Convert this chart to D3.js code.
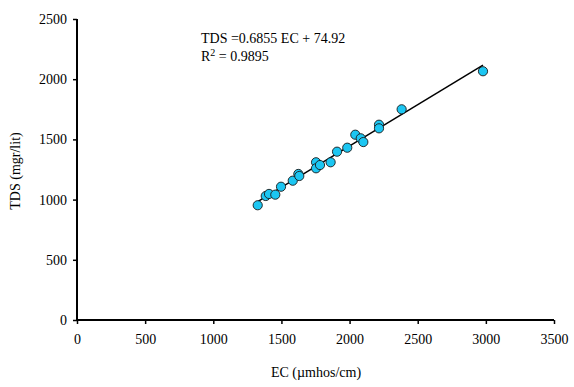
<!DOCTYPE html>
<html>
<head>
<meta charset="utf-8">
<script src="https://cdn.jsdelivr.net/npm/d3@7"></script>
<style>
  body { margin: 0; background: #fff; }
  svg text { font-family: "Liberation Serif", "Times New Roman", serif; fill: #000; }
</style>
</head>
<body>
<svg width="574" height="387"></svg>
<script>
var ecValues  = [1326, 1385, 1409, 1455, 1497, 1583, 1624, 1631, 1754, 1754, 1783, 1861, 1908, 1983, 2042, 2082, 2101, 2216, 2216, 2382, 2979],
    tdsValues = [953, 1030, 1047, 1041, 1107, 1157, 1213, 1196, 1310, 1260, 1287, 1310, 1398, 1431, 1539, 1509, 1478, 1622, 1592, 1750, 2066],
    xTicks = [0, 500, 1000, 1500, 2000, 2500, 3000, 3500],
    yTicks = [0, 500, 1000, 1500, 2000, 2500],
    slope = 0.6855,
    intercept = 74.92;

var svg = d3.select('svg'),
    x = d3.scaleLinear().domain([0, 3500]).range([77, 554]),
    y = d3.scaleLinear().domain([0, 2500]).range([320, 19]);

var points = ecValues.map(function(d, i) { return [d, tdsValues[i]]; });

// axes
var xAxis = svg.append('g')
               .attr('transform', 'translate(0,' + y(0) + ')')
               .call(d3.axisBottom(x).tickValues(xTicks).tickSize(4).tickPadding(10).tickFormat(d3.format('d')));

var yAxis = svg.append('g')
               .attr('transform', 'translate(' + x(0) + ',0)')
               .call(d3.axisLeft(y).tickValues(yTicks).tickSize(4).tickPadding(6).tickFormat(d3.format('d')));

[xAxis, yAxis].forEach(function(a) {
  a.attr('font-family', null).attr('font-size', null);
  a.select('.domain').attr('stroke', '#000').attr('stroke-width', 2);
  a.selectAll('.tick line').attr('stroke', '#000').attr('stroke-width', 1.5);
  a.selectAll('text').style('font-size', '14px');
});
xAxis.select('.domain').attr('d', 'M' + x(0) + ',0H' + x(3500));
yAxis.select('.domain').attr('d', 'M0,' + y(0) + 'V' + y(2500));

// trend line
var ext = d3.extent(ecValues);
svg.append('line')
   .attr('x1', x(ext[0])).attr('y1', y(slope * ext[0] + intercept))
   .attr('x2', x(ext[1])).attr('y2', y(slope * ext[1] + intercept))
   .attr('stroke', '#000')
   .attr('stroke-width', 1.5);

// points
svg.append('g')
   .selectAll('circle')
   .data(points)
   .enter().append('circle')
   .attr('cx', function(d) { return x(d[0]); })
   .attr('cy', function(d) { return y(d[1]); })
   .attr('r', 4.6)
   .attr('fill', '#1cc6f2')
   .attr('stroke', '#1a1a1a')
   .attr('stroke-width', 0.9);

// labels
svg.append('text')
   .attr('x', 316).attr('y', 377)
   .attr('text-anchor', 'middle')
   .style('font-size', '14px')
   .text('EC (\u00b5mhos/cm)');

svg.append('text')
   .attr('transform', 'translate(20,' + 171 + ') rotate(-90)')
   .attr('text-anchor', 'middle')
   .style('font-size', '14px')
   .text('TDS (mgr/lit)');

svg.append('text')
   .attr('x', 201).attr('y', 43)
   .style('font-size', '14px')
   .text('TDS =0.6855 EC + 74.92');

var r2 = svg.append('text')
            .attr('x', 201).attr('y', 61)
            .style('font-size', '14px');
r2.append('tspan').text('R');
r2.append('tspan').attr('dy', -5).style('font-size', '10px').text('2');
r2.append('tspan').attr('dy', 5).text(' = 0.9895');
</script>
</body>
</html>
